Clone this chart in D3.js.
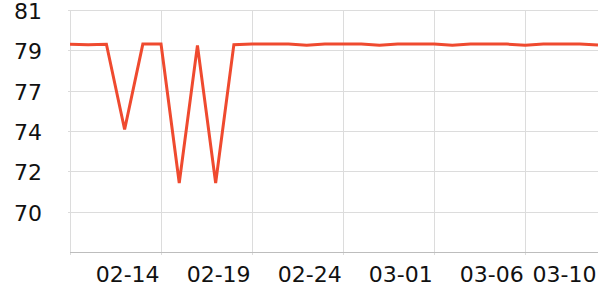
<!DOCTYPE html>
<html>
<head>
<meta charset="utf-8">
<script src="https://cdn.jsdelivr.net/npm/d3@7"></script>
<style>
  body { margin: 0; background: #fff; }
  text { font-family: "DejaVu Sans", sans-serif; }
</style>
</head>
<body>
<div id="wrapper"></div>
<script>
// Data
const dates = [
  '2021-02-11','2021-02-12','2021-02-13','2021-02-14','2021-02-15','2021-02-16',
  '2021-02-17','2021-02-18','2021-02-19','2021-02-20','2021-02-21','2021-02-22',
  '2021-02-23','2021-02-24','2021-02-25','2021-02-26','2021-02-27','2021-02-28',
  '2021-03-01','2021-03-02','2021-03-03','2021-03-04','2021-03-05','2021-03-06',
  '2021-03-07','2021-03-08','2021-03-09','2021-03-10','2021-03-11','2021-03-12'
]
const values = [
  79.13, 79.11, 79.13, 74.48, 79.14, 79.14,
  71.56, 79.07, 71.56, 79.11, 79.14, 79.14,
  79.14, 79.08, 79.14, 79.14, 79.14, 79.08,
  79.14, 79.14, 79.14, 79.08, 79.14, 79.14,
  79.14, 79.08, 79.14, 79.14, 79.14, 79.09
]
const yTicks = [70, 72.2, 74.4, 76.6, 78.8, 81]
const gridDates = ['2021-02-11','2021-02-16','2021-02-21','2021-02-26','2021-03-03','2021-03-08']
const labelDates = ['2021-02-14','2021-02-19','2021-02-24','2021-03-01','2021-03-06','2021-03-10']

const parseDate = d3.timeParse('%Y-%m-%d')
const data = dates.map((d, i) => ({ date: parseDate(d), value: values[i] }))

// Dimensions
const dimensions = {
  width: 600,
  height: 300,
  margin: { top: 10, right: 2, bottom: 48, left: 70 },
}
dimensions.boundedWidth = dimensions.width - dimensions.margin.left - dimensions.margin.right
dimensions.boundedHeight = dimensions.height - dimensions.margin.top - dimensions.margin.bottom

const svg = d3.select('#wrapper')
  .append('svg')
    .attr('width', dimensions.width)
    .attr('height', dimensions.height)

const bounds = svg.append('g')
  .attr('transform', `translate(${dimensions.margin.left},${dimensions.margin.top})`)

// Scales
const xScale = d3.scaleTime()
  .domain(d3.extent(data, d => d.date))
  .range([0, dimensions.boundedWidth])

const yScale = d3.scaleLinear()
  .domain([67.8, 81])
  .range([dimensions.boundedHeight, 0])

// Grid
bounds.append('g')
  .selectAll('line')
  .data(yTicks)
  .join('line')
    .attr('x1', -2)
    .attr('x2', dimensions.boundedWidth)
    .attr('y1', d => Math.round(yScale(d)) + 0.5)
    .attr('y2', d => Math.round(yScale(d)) + 0.5)
    .attr('stroke', '#dcdcdc')

bounds.append('g')
  .selectAll('line')
  .data(gridDates.map(parseDate))
  .join('line')
    .attr('x1', d => Math.round(xScale(d)) + 0.5)
    .attr('x2', d => Math.round(xScale(d)) + 0.5)
    .attr('y1', 0)
    .attr('y2', dimensions.boundedHeight + 3)
    .attr('stroke', '#dcdcdc')

// bottom axis line
bounds.append('line')
  .attr('x1', 0)
  .attr('x2', dimensions.boundedWidth)
  .attr('y1', dimensions.boundedHeight + 0.5)
  .attr('y2', dimensions.boundedHeight + 0.5)
  .attr('stroke', '#bdbdbd')

// Y labels
const fmt = d3.format('.0f')
bounds.append('g')
  .selectAll('text')
  .data(yTicks)
  .join('text')
    .attr('x', -28)
    .attr('y', d => yScale(d))
    .attr('dy', 9)
    .attr('text-anchor', 'end')
    .attr('font-size', 22)
    .attr('fill', '#111')
    .text(d => fmt(d))

// X labels
const labelFmt = d3.timeFormat('%m-%d')
bounds.append('g')
  .selectAll('text')
  .data(labelDates.map(parseDate))
  .join('text')
    .attr('x', d => xScale(d) + 3)
    .attr('y', dimensions.boundedHeight + 30)
    .attr('text-anchor', 'middle')
    .attr('font-size', 22)
    .attr('fill', '#111')
    .text(d => labelFmt(d))

// Line
const lineGenerator = d3.line()
  .x(d => xScale(d.date))
  .y(d => yScale(d.value))

bounds.append('path')
  .attr('d', lineGenerator(data))
  .attr('fill', 'none')
  .attr('stroke', '#ef4a2f')
  .attr('stroke-width', 3)
</script>
</body>
</html>
